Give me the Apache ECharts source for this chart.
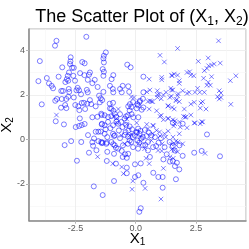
<!DOCTYPE html>
<html><head><meta charset="utf-8">
<script src="https://cdn.jsdelivr.net/npm/echarts@6/dist/echarts.min.js"></script>
<style>html,body{margin:0;padding:0;background:#fff}#c{width:249px;height:249px}</style>
</head><body><div id="c"></div>
<script>
// Class 1 (circles): [X1, X2]
const circlePoints = [
[-2.05,4.60],[-3.29,4.42],[-3.35,4.20],[-3.98,3.51],[-2.70,3.68],[-2.71,3.50],[-2.73,3.38],[-2.22,3.47],[-2.12,3.41],[-3.05,3.23],[-2.64,3.21],[-2.57,3.21],
[-2.77,3.00],[-2.82,2.85],[-2.86,2.70],[-2.80,2.63],[-2.59,2.85],[-2.52,2.63],[-2.31,2.97],[-2.13,2.88],[-1.90,3.00],[-1.94,2.90],[-3.20,2.81],[-3.69,2.75],[-4.04,2.61],[-3.60,2.51],[-3.49,2.40],[-3.43,2.29],[-2.92,2.57],[-1.99,2.67],[-1.70,2.67],[-1.80,2.52],[-1.58,2.35],[-2.41,2.31],[-2.46,2.20],[-2.35,2.20],[-2.78,2.26],[-2.76,2.13],[-3.09,2.17],[-3.02,2.17],[-2.03,2.22],[-1.99,2.11],[-2.27,2.02],[-1.34,2.13],[-2.57,1.88],[-2.80,1.91],[-2.88,1.81],[-3.34,1.73],[-3.27,1.81],[-3.07,1.81],[-3.90,1.57],[-3.10,1.42],[-2.93,1.54],[-2.88,1.40],[-2.51,1.54],[-2.38,1.48],[-2.24,1.63],[-2.15,1.64],[-2.01,1.60],[-1.90,1.76],[-1.85,1.58],[-2.34,1.31],[-2.10,1.36],[-1.66,1.48],[-1.52,1.96],[-1.45,1.84],[-1.39,1.76],[-1.49,1.66],
[-3.32,0.81],[-2.32,0.94],[-1.80,0.99],[-1.59,1.01],[-1.41,1.09],[-2.98,0.67],[-2.12,0.69],[-2.49,0.55],[-2.35,0.60],[-2.24,0.64],[-1.41,0.67],[-1.66,0.34],[-1.55,0.34],[-1.98,0.19],[-1.73,0.04],[-1.55,-0.08],[-1.41,-0.17],[-1.80,-0.13],[-1.77,-0.29],[-1.63,-0.49],[-1.94,-0.60],[-2.68,-0.08],[-2.95,-0.26],[-2.26,-0.12],[-2.44,-0.96],[-1.74,-2.11],[-1.37,-2.50],
[-1.24,3.90],[-1.32,3.75],[-1.34,3.63],[-1.32,3.45],[-1.37,3.15],[-1.32,3.03],[-1.34,2.85],[-0.35,3.35],[-0.21,3.23],[-0.93,2.88],[-1.00,2.70],[-1.07,2.40],[-0.95,2.26],[-0.93,2.11],[0.32,2.81],[-0.54,2.40],[-0.65,2.26],[-0.58,2.11],[-0.31,2.38],[-0.27,2.13],[0.32,2.11],[0.18,1.73],[0.07,1.58],[-0.24,1.58],[-0.31,1.48],[0.04,1.39],[0.32,1.43],[0.25,1.33],[-1.07,1.39],[-0.93,1.28],[-0.65,1.13],[-0.40,1.03],[-0.17,1.13],[-0.10,0.99],[0.11,0.99],
[-1.18,0.10],[-0.90,0.15],[-1.37,-0.15],[-1.20,-0.15],[-0.93,-0.22],[-0.82,-0.38],[-0.90,-0.65],[-1.18,-0.56],[-1.20,-0.97],[-0.58,-0.52],[-0.44,-0.67],[-0.37,-0.83],[-0.54,-0.79],[-0.31,-0.65],[-0.82,-1.09],[-0.37,-1.27],[-0.03,-1.12],[0.21,-1.08],[0.59,-0.79],[0.73,-1.50],[0.94,-1.69],[1.12,-1.69],[1.12,-2.17],[-0.90,-1.87],[-0.03,-1.69],[0.11,-1.61],[0.32,-1.95],[0.21,-3.09],[0.15,-3.25],[1.29,-0.67],[1.15,-0.90],[-0.37,-1.52],[1.63,-1.20],[1.42,-1.00],
[1.54,0.74],[1.95,0.70],[2.96,0.22],[1.54,-0.30],[1.95,-0.74],[2.43,-0.60],[2.74,-0.52],[3.50,-0.76],[1.54,-0.97],[1.71,-1.05],[1.81,-1.35],[1.67,-1.79],
[-1.08,1.60],[-0.94,1.64],[-1.01,1.37],[-1.43,1.15],[-1.29,1.08],[-1.15,1.00],[-1.01,1.04],[-0.87,1.15],[-0.80,1.00],[-1.40,0.70],[-1.29,0.63],[-1.15,0.78],[-0.94,0.63],[-0.73,0.70],[-0.60,0.78],[-0.46,0.93],[-0.32,1.08],[-0.25,1.30],[-0.18,1.45],[-0.11,1.67],[0.10,1.52],[0.16,1.67],[0.30,1.82],
[-0.87,0.18],[-0.94,0.25],[-1.29,0.25],[-1.43,-0.12],[-1.22,-0.20],[-1.01,-0.12],[-0.87,-0.27],[-0.73,-0.42],[-0.53,-0.27],[-0.32,-0.20],[-0.18,-0.12],[-0.04,0.18],[0.03,0.33],[0.10,0.48],[0.16,0.25],[0.23,0.03],[0.07,-0.05],[-0.11,-0.35],[0.10,-0.42],[0.30,-0.27],[0.51,-0.12],[0.65,0.18],[0.72,-0.35],[0.51,-0.50],[1.20,-0.35],[1.41,-0.12],[1.62,-0.50],[1.82,-0.27],
[-0.30,0.40],[-0.15,0.45],[0.05,0.30],[0.20,0.38],[-0.32,0.12],[-0.12,0.10],[0.30,0.10],[-0.25,-0.05],[0.15,-0.15],[0.38,0.42],[-0.25,0.58],[0.45,0.15],[-0.42,0.32],
[-1.25,0.45],[-1.05,0.50],[-0.70,0.40],[-0.55,0.55],[-0.40,0.65],[-0.65,0.05],[-0.45,0.20],[-0.80,0.80],[-1.45,0.35],
[0.55,0.30],[0.80,0.10],[0.95,-0.15],[1.05,0.05],[0.40,-0.25],[0.85,-0.30]
];
// Class 2 (crosses): [X1, X2]
const crossPoints = [
[-3.29,1.09],[-1.58,-0.78],
[1.01,3.77],[1.19,3.47],[0.56,2.70],[1.08,2.78],[1.08,2.67],[1.49,2.88],[0.46,2.13],[0.59,2.21],[0.90,2.18],[0.98,2.03],[1.26,2.11],[1.49,2.21],[-0.07,1.88],[0.59,1.73],[0.71,1.69],[0.90,1.88],[1.15,1.99],[1.35,1.51],[1.42,1.88],[0.56,1.36],[0.87,1.28],[-0.72,1.36],[-0.93,1.03],[-0.79,0.94],[-0.37,0.91],[1.01,1.03],[1.15,0.88],[1.35,0.94],[1.63,0.83],
[3.44,4.42],[1.74,4.08],[3.01,3.65],[2.60,3.50],[3.51,3.42],[3.26,3.38],[3.15,3.33],[3.03,3.30],[2.96,3.18],[2.85,3.08],[2.24,3.03],[2.13,3.00],[2.29,2.88],[2.41,2.85],[1.60,2.93],[1.74,2.88],[1.51,2.85],[1.81,2.63],[1.81,2.51],[2.82,2.74],[3.15,2.81],[4.16,2.85],[3.93,2.63],[2.96,2.43],[3.10,2.43],[3.01,2.56],
[1.46,2.29],[1.54,2.21],[1.95,2.18],[2.13,2.06],[2.22,2.11],[2.46,2.11],[2.57,2.29],[2.85,2.11],[2.66,2.11],[3.47,2.18],[3.54,2.08],[3.40,1.91],[3.54,1.88],[3.47,1.81],[3.95,1.57],
[1.74,1.96],[1.67,1.73],[1.81,1.69],[2.02,1.36],[2.29,1.58],[2.43,1.66],[2.71,1.63],[2.78,1.69],[2.92,1.36],[2.68,1.40],[2.29,1.09],[2.09,1.01],[2.05,0.99],[1.99,1.03],[1.60,1.36],[1.51,1.43],[2.74,0.79],[2.43,0.73],[1.54,0.88],
[1.58,0.60],[1.85,0.55],[2.13,0.52],[2.46,0.74],[2.68,0.70],[2.78,0.78],[1.81,0.25],[1.67,-0.08],[1.95,-0.20],[1.49,-0.45],[1.60,-0.49],[1.74,-0.56],[2.88,-0.63],
[-0.95,-1.09],[-0.58,-1.24],[-0.51,-1.54],[0.43,-0.85],[0.56,-1.09],[-0.12,-1.87],[-0.15,-2.24],[0.39,-2.20],[1.05,-2.68],[1.08,-0.52],[1.42,-0.79],[1.49,-0.22],[1.15,-1.30],[1.56,-0.85],
[-0.79,0.74],[-0.37,0.67],[0.04,0.74],[0.46,0.67],[0.73,0.60],[1.35,0.37],[1.01,0.15],
[-0.18,1.90],[0.51,1.70],[0.65,1.70],[0.90,2.00],[1.06,1.82],[1.34,1.49],[1.48,1.94],[1.69,1.79],[1.76,2.05],[1.06,1.08],[1.34,0.93],[1.62,0.70],[1.82,0.78],[0.51,0.48],[0.72,0.63],[0.86,0.40],[0.99,0.33],[1.20,0.25],[1.55,0.10],[1.76,-0.12],[0.65,-0.05],[0.37,-0.42],[0.93,-0.50],[-0.60,0.18],[-0.25,0.18],[-0.46,-0.20],[1.62,-0.20],
[-0.18,0.22],[0.22,0.12],[0.12,-0.20],[0.70,0.25],[1.10,-0.20],[1.25,0.10]
];
const xRange = [-4.43, 4.58];
const yRange = [-3.65, 4.95];
const xStep = 2.5, yStep = 2;

const FONT = '"Liberation Sans", Arial, sans-serif';
const markColor = 'rgba(0,0,255,0.7)';
const chart = echarts.init(document.getElementById('c'), null, {renderer: 'canvas'});
chart.setOption({
  animation: false,
  title: {
    text: '{n|The Scatter Plot of (X}{s|1}{n|, X}{s|2}{n|)}',
    left: 137, top: 1, textAlign: 'center',
    textStyle: {
      fontWeight: 'normal',
      rich: {
        n: {fontFamily: FONT, fontSize: 18, fontWeight: 'normal', color: '#000', lineHeight: 22},
        s: {fontFamily: FONT, fontSize: 12, fontWeight: 'normal', color: '#000', padding: [9, 0, 0, 0], lineHeight: 22}
      }
    }
  },
  grid: {left: 29, right: 3, top: 29, bottom: 28.3, outerBoundsMode: 'none', containLabel: false,
         show: true, borderColor: '#b3b3b3', borderWidth: 1, backgroundColor: '#fff'},
  xAxis: {
    type: 'value', min: xRange[0], max: xRange[1], minInterval: xStep, maxInterval: xStep,
    name: '{n|X}{s|1}', nameLocation: 'middle', nameGap: 9, nameMoveOverlap: false,
    nameTextStyle: {rich: {n: {fontFamily: FONT, fontSize: 15, color: '#000', lineHeight: 18}, s: {fontFamily: FONT, fontSize: 10, color: '#000', padding: [7,0,0,0], lineHeight: 18}}},
    axisLine: {show: true, onZero: false, lineStyle: {color: '#8a8a8a', width: 1.5}},
    axisTick: {show: true, length: 3, lineStyle: {color: '#b3b3b3'}},
    axisLabel: {showMinLabel: false, showMaxLabel: false, fontFamily: FONT, fontSize: 9, color: '#5a5a5a', margin: 3, formatter: v => v.toFixed(1)},
    splitLine: {show: true, lineStyle: {color: '#ebebeb', width: 0.8}},
    minorTick: {show: false, splitNumber: 2},
    minorSplitLine: {show: true, lineStyle: {color: '#f5f5f5', width: 0.6}}
  },
  yAxis: {
    type: 'value', min: yRange[0], max: yRange[1], minInterval: yStep, maxInterval: yStep,
    name: '{n|X}{s|2}', nameLocation: 'middle', nameGap: 13, nameRotate: 90, nameMoveOverlap: false,
    nameTextStyle: {rich: {n: {fontFamily: FONT, fontSize: 15, color: '#000', lineHeight: 18}, s: {fontFamily: FONT, fontSize: 10, color: '#000', padding: [7,0,0,0], lineHeight: 18}}},
    axisLine: {show: true, onZero: false, lineStyle: {color: '#8a8a8a', width: 1.5}},
    axisTick: {show: true, length: 3, lineStyle: {color: '#b3b3b3'}},
    axisLabel: {showMinLabel: false, showMaxLabel: false, fontFamily: FONT, fontSize: 9, color: '#5a5a5a', margin: 4, formatter: v => String(v)},
    splitLine: {show: true, lineStyle: {color: '#ebebeb', width: 0.8}},
    minorTick: {show: false, splitNumber: 2},
    minorSplitLine: {show: true, lineStyle: {color: '#f5f5f5', width: 0.6}}
  },
  series: [
    {type: 'scatter', data: circlePoints, symbol: 'circle', symbolSize: 5,
     itemStyle: {color: 'rgba(0,0,0,0)', borderColor: markColor, borderWidth: 0.9}},
    {type: 'scatter', data: crossPoints, symbol: 'path://M0,0L10,10M10,0L0,10', symbolSize: 4.5,
     itemStyle: {color: 'rgba(0,0,0,0)', borderColor: markColor, borderWidth: 0.9}}
  ]
});
</script></body></html>
